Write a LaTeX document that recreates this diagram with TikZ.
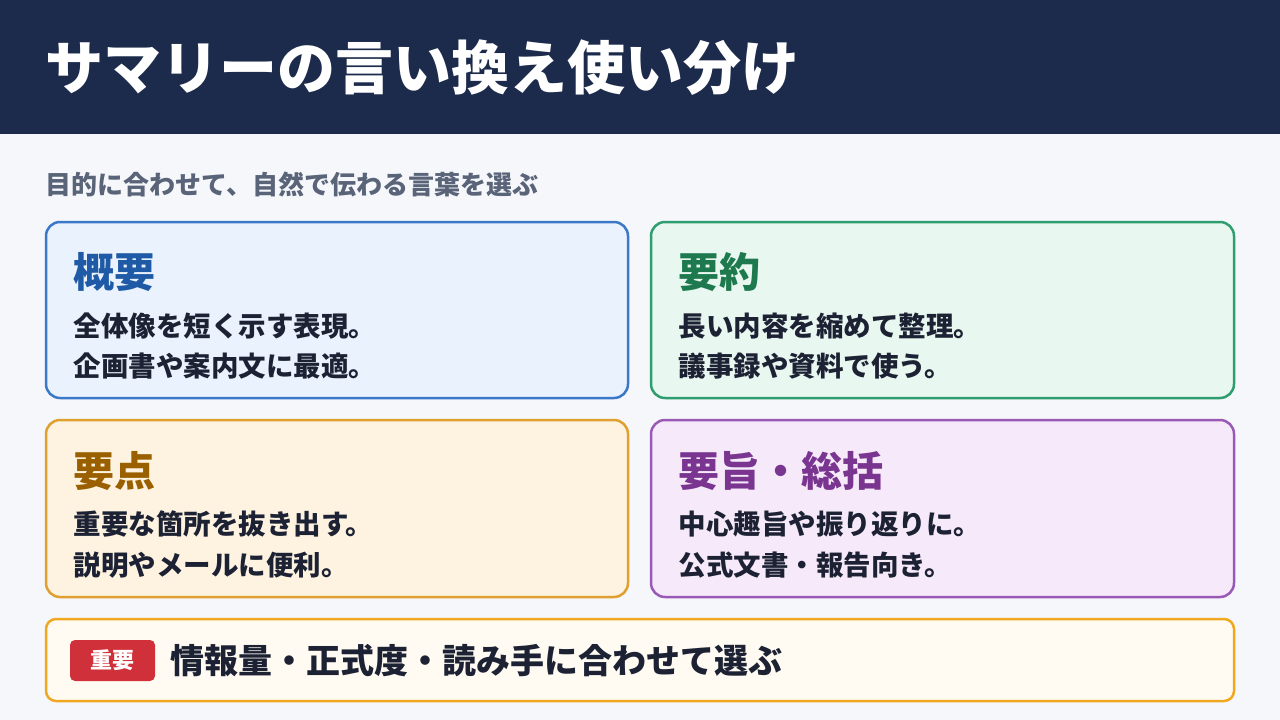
\documentclass[tikz,border=0pt]{standalone}
\usepackage{fontspec}
\setmainfont{Noto Sans CJK JP}
\usetikzlibrary{positioning}
\definecolor{navy}{HTML}{1C2B4B}
\definecolor{bgc}{HTML}{F5F7FB}
\definecolor{subc}{HTML}{5A6478}
\definecolor{inkc}{HTML}{1C2233}
\definecolor{blueB}{HTML}{3C78C8}\definecolor{blueF}{HTML}{EAF2FD}\definecolor{blueT}{HTML}{1F5AA6}
\definecolor{greenB}{HTML}{2E9E6E}\definecolor{greenF}{HTML}{E8F7F0}\definecolor{greenT}{HTML}{1E7A4E}
\definecolor{orangeB}{HTML}{E0A030}\definecolor{orangeF}{HTML}{FEF3E0}\definecolor{orangeT}{HTML}{9A6000}
\definecolor{purpleB}{HTML}{9B59B6}\definecolor{purpleF}{HTML}{F6EAFA}\definecolor{purpleT}{HTML}{7A3590}
\definecolor{noteB}{HTML}{F0A820}\definecolor{noteF}{HTML}{FFFBF2}\definecolor{badge}{HTML}{D0303A}
\tikzset{
  card/.style={draw=#1B, fill=#1F, line width=2.5pt, rounded corners=14pt},
  cardtitle/.style={anchor=west, font=\fontsize{41}{48}\selectfont\bfseries, text=#1T},
  cardline/.style={anchor=west, font=\fontsize{27.5}{32}\selectfont\bfseries, text=inkc}
}
\begin{document}
\begin{tikzpicture}[x=1pt,y=-1pt]
        % Background
        \fill[bgc] (0,0) rectangle (1280,720);
        \fill[navy] (0,0) rectangle (1280,134);
        \node[anchor=west, text=white, font=\fontsize{58}{66}\selectfont\bfseries] (title) at (42,68) {サマリーの言い換え使い分け};
        \node[anchor=west, text=subc, font=\fontsize{26}{30}\selectfont\bfseries] (sub) at (42,185) {目的に合わせて、自然で伝わる言葉を選ぶ};
        
        % Cards
        \draw[card=blue] (46,222) rectangle (628,398);
        \node[cardtitle=blue] (t1) at (70,272) {概要};
        \node[cardline] (a1) at (70,326) {全体像を短く示す表現。};
        \node[cardline] (b1) at (70,366) {企画書や案内文に最適。};
        
        \draw[card=green] (651,222) rectangle (1234,398);
        \node[cardtitle=green] (t2) at (675,272) {要約};
        \node[cardline] (a2) at (675,326) {長い内容を縮めて整理。};
        \node[cardline] (b2) at (675,366) {議事録や資料で使う。};
        
        \draw[card=orange] (46,420) rectangle (628,597);
        \node[cardtitle=orange] (t3) at (70,471) {要点};
        \node[cardline] (a3) at (70,524) {重要な箇所を抜き出す。};
        \node[cardline] (b3) at (70,565) {説明やメールに便利。};
        
        \draw[card=purple] (651,420) rectangle (1234,597);
        \node[cardtitle=purple] (t4) at (675,471) {要旨・総括};
        \node[cardline] (a4) at (675,524) {中心趣旨や振り返りに。};
        \node[cardline] (b4) at (675,565) {公式文書・報告向き。};
        
        % Note
        \draw[card=note, rounded corners=10pt] (46,619) rectangle (1234,701);
        \fill[badge, rounded corners=5pt] (70,640) rectangle (155,681);
        \node[text=white, font=\fontsize{22}{26}\selectfont\bfseries] (tag) at (112.5,660.5) {重要};
        \node[anchor=west, text=inkc, font=\fontsize{34}{40}\selectfont\bfseries] (note) at (167,661) {情報量・正式度・読み手に合わせて選ぶ};
\end{tikzpicture}
\end{document}
